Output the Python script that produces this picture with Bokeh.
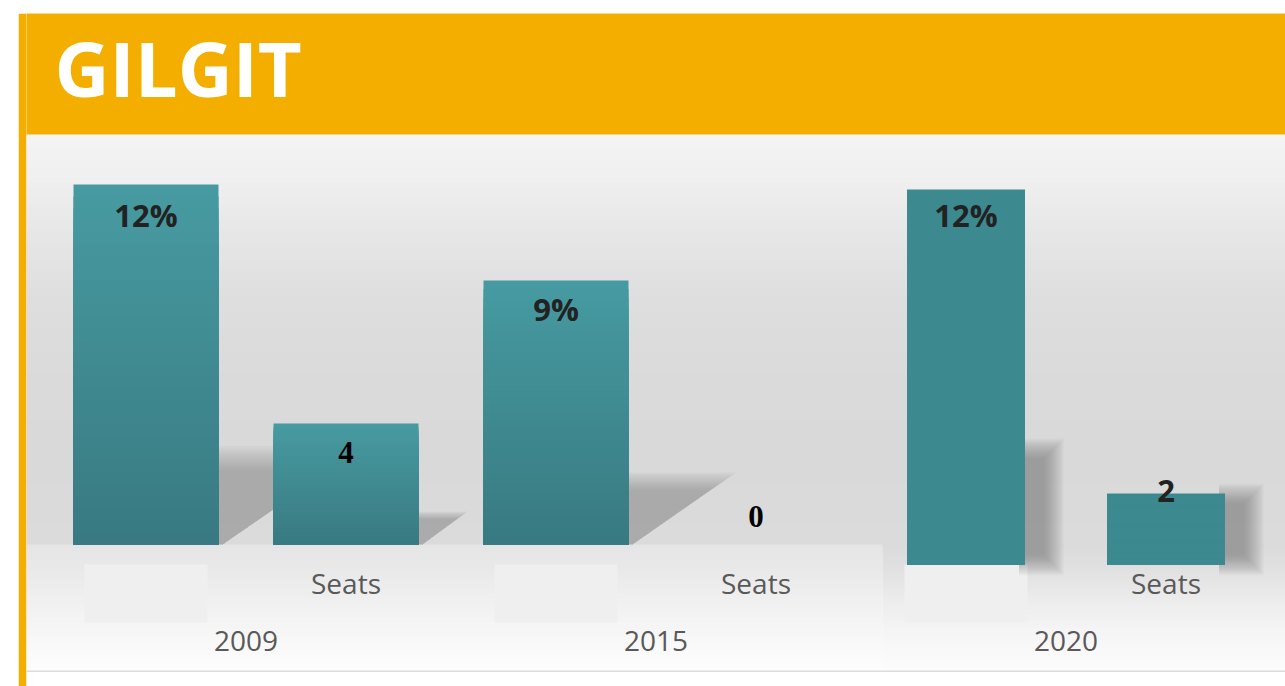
import numpy as np
from bokeh.plotting import figure
from bokeh.models import Range1d, FactorRange
from bokeh.core.properties import value
from bokeh.embed import file_html
from bokeh.resources import INLINE

# ---------------- data ----------------
title_text = "GILGIT"
years = ["2009", "2015", "2020"]
sub_labels = ["", "Seats"]
vote_share = [12, 9, 12]            # percent of votes
seats = [4, 0, 2]                   # seats won
share_labels = ["12%", "9%", "12%"]
seat_labels = ["4", "0", "2"]

# ---------------- styles ----------------
ORANGE = "#f4ae00"
W, H = 1267, 673
LEFT = 8
FW, FH = W - LEFT, H
HEADER_H = 121
PANEL_BOTTOM = 657
BASE_PX = [531, 531, 551]            # baseline of each group (px from frame top)
PCT_PX = [30.0, 29.33, 31.25]        # px per percent point, per group
SEAT_PX = [30.25, 30.25, 35.5]       # px per seat, per group
BAR_W = [0.725, 0.725, 0.59]
BOX_W = 0.615
SHADOW = ["cast", "cast", "drop"]
TOP_COL = ["#479aa1", "#469aa1", "#3d8990"]
BOT_COL = ["#397a82", "#397a82", "#3d8990"]
PCT_DY = [43, 41, 38]                # baseline distance below bar top
SEAT_DY = [41, -16, 10]
SEAT_FONT = ["Liberation Serif", "Liberation Serif", "Open Sans"]
SEAT_COL = ["#000000", "#000000", "#222222"]
GPAD = 0.05
RANGE_PAD = 0.0975
BFIX = 0.39                          # baseline correction (em)

factors = [(y, s) for y in years for s in sub_labels]
UNIT_PX = FW / (len(factors) + (len(years) - 1) * GPAD + 2 * RANGE_PAD)


def sx(px):
    """frame pixel -> synthetic categorical coordinate"""
    return px / UNIT_PX - RANGE_PAD


def syn_center(i, j):
    return i * (len(sub_labels) + GPAD) + j + 0.5


def hexgrey(v):
    v = int(round(v))
    return "#%02x%02x%02x" % (v, v, v)


def lerp_hex(c1, c2, t):
    a = [int(c1[i:i + 2], 16) for i in (1, 3, 5)]
    b = [int(c2[i:i + 2], 16) for i in (1, 3, 5)]
    return "#%02x%02x%02x" % tuple(int(round(a[k] + (b[k] - a[k]) * t)) for k in range(3))


xr = FactorRange(factors=factors, factor_padding=0, group_padding=GPAD,
                 range_padding=RANGE_PAD, range_padding_units="absolute")
p = figure(width=W, height=H, x_range=xr, y_range=Range1d(FH, 0),
           x_axis_location=None, y_axis_location=None, toolbar_location=None,
           output_backend="svg", min_border_left=LEFT, min_border_right=0,
           min_border_top=0, min_border_bottom=0, border_fill_color=ORANGE,
           background_fill_color="white", outline_line_color=None)
p.margin = (13, 0, 0, 18)
p.grid.visible = False
p.title.visible = False

ranges = {}
for i in range(len(years)):
    b = BASE_PX[i]
    ranges["pct%d" % i] = Range1d(start=(b - FH) / PCT_PX[i], end=b / PCT_PX[i])
    ranges["seat%d" % i] = Range1d(start=(b - FH) / SEAT_PX[i], end=b / SEAT_PX[i])
p.extra_y_ranges = ranges

XL, XR = sx(-20), sx(FW + 20)

# ---------------- background ----------------
upper = [(121, 244), (167, 239), (217, 231), (287, 222), (367, 218), (447, 217), (531, 219)]
lower_left = [(531, 229), (557, 233), (587, 240), (617, 246), (644, 251), (657, 253)]
lower_right = [(531, 219), (551, 223), (587, 236), (617, 245), (657, 252)]
SPLIT = sx(856)


def band(stops, x0, x1, step=3):
    ys = np.arange(stops[0][0], stops[-1][0], step)
    lv = np.interp(ys + step / 2, [s[0] for s in stops], [s[1] for s in stops])
    p.quad(left=x0, right=x1, top=ys, bottom=ys + step + 0.8,
           fill_color=[hexgrey(v) for v in lv], line_color=None)


band(upper, XL, XR)
band(lower_left, XL, SPLIT)
band(lower_right, SPLIT, XR)
p.quad(left=XL, right=XR, top=PANEL_BOTTOM, bottom=PANEL_BOTTOM + 1.6,
       fill_color="#dcdcdc", line_color=None)
p.quad(left=XL, right=XR, top=PANEL_BOTTOM + 1.6, bottom=FH + 5,
       fill_color="white", line_color=None)
p.quad(left=sx(-1), right=sx(0.2), top=HEADER_H, bottom=FH + 5,
       fill_color="#f9dc8c", line_color=None)

# header
p.quad(left=XL, right=XR, top=-5, bottom=HEADER_H, fill_color=ORANGE, line_color=None)
p.text(x=[sx(28)], y=[84 - BFIX * 76], text=[title_text], text_font=value("Open Sans"),
       text_font_style="bold", text_font_size="76px", text_color="white",
       text_baseline="alphabetic", text_align="left")

# label boxes under the share bars
p.vbar(x=[(y, sub_labels[0]) for y in years], width=BOX_W, top=551, bottom=609,
       fill_color="#efefef", line_color=None)

# ---------------- shadows ----------------
for i, y in enumerate(years):
    for j, (val, rk, px) in enumerate([(vote_share[i], "pct%d" % i, PCT_PX[i]),
                                        (seats[i], "seat%d" % i, SEAT_PX[i])]):
        if val <= 0:
            continue
        R = syn_center(i, j) + BAR_W[i] / 2
        if SHADOW[i] == "cast":
            h = 0.24 * val
            L = 0.36 * val * px / UNIT_PX
            xs, ys = [], []
            for s in np.linspace(1.14, 0.86, 11):
                xs.append([R, R, R + L * s, R + 0.02])
                ys.append([0, h * s, h * s, 0])
            p.patches(xs=xs, ys=ys, y_range_name=rk,
                      fill_color="#777777", fill_alpha=0.05, line_color=None)
        else:
            top = (0.31 if j == 0 else 1.0) * val
            for d in np.linspace(10, -10, 21):
                p.quad(left=R - 0.03, right=R + (29 + d) / UNIT_PX,
                       top=top + d / px, bottom=-(d + 1) / px, y_range_name=rk,
                       fill_color="#666666", fill_alpha=0.034, line_color=None)

# ---------------- bars ----------------
N = 30
for i, y in enumerate(years):
    for j, (val, rk) in enumerate([(vote_share[i], "pct%d" % i), (seats[i], "seat%d" % i)]):
        if val <= 0:
            continue
        tops = [val * (1 - k / N) for k in range(N)]
        cols = [lerp_hex(TOP_COL[i], BOT_COL[i], k / (N - 1)) for k in range(N)]
        p.vbar(x=[(y, sub_labels[j])] * N, width=BAR_W[i], top=tops, bottom=0,
               y_range_name=rk, fill_color=cols, line_color=None)

# ---------------- value labels ----------------
for i, y in enumerate(years):
    p.text(x=[(y, sub_labels[0])], y=[vote_share[i]], text=[share_labels[i]],
           y_range_name="pct%d" % i, y_offset=PCT_DY[i] - BFIX * 31,
           text_font=value("Open Sans"), text_font_style="bold", text_font_size="31px",
           text_color="#222222", text_align="center", text_baseline="alphabetic")
    p.text(x=[(y, sub_labels[1])], y=[seats[i]], text=[seat_labels[i]],
           y_range_name="seat%d" % i, y_offset=SEAT_DY[i] - BFIX * 31,
           text_font=value(SEAT_FONT[i]), text_font_style="bold", text_font_size="31px",
           text_color=SEAT_COL[i], text_align="center", text_baseline="alphabetic")

# category labels
p.text(x=[(y, sub_labels[1]) for y in years], y=[580 - BFIX * 28] * len(years),
       text=[sub_labels[1]] * len(years),
       text_font=value("Open Sans"), text_font_size="28px",
       text_color="#595959", text_align="center", text_baseline="alphabetic")
p.text(x=years, y=[638 - BFIX * 28] * len(years), text=years,
       text_font=value("Open Sans"), text_font_size="28px",
       text_color="#595959", text_align="center", text_baseline="alphabetic")

open("out.html", "w").write(file_html(p, INLINE))
